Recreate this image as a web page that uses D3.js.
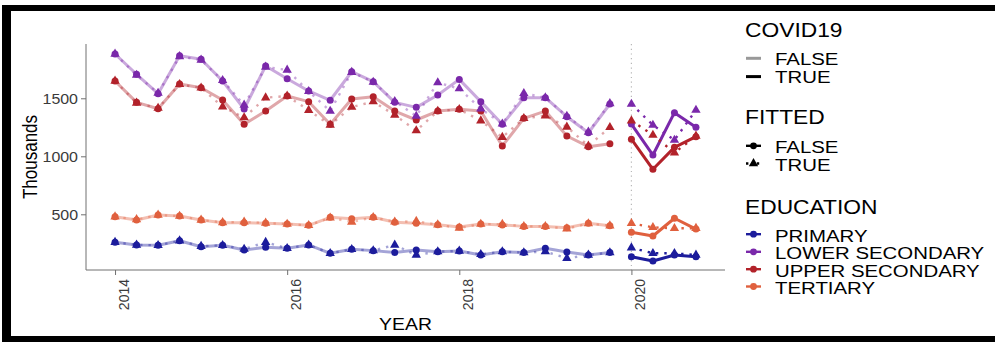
<!DOCTYPE html>
<html><head><meta charset="utf-8">
<script src="https://cdn.jsdelivr.net/npm/d3@7"></script>
<style>
body{margin:0;background:#fff}
svg{display:block}
text{font-family:"Liberation Sans",Arial,sans-serif}
</style>
</head><body>
<svg id="c" width="995" height="342"></svg>
<script>
// ---------- DATA ----------
const periods = ["2014-Q1","2014-Q2","2014-Q3","2014-Q4","2015-Q1","2015-Q2","2015-Q3","2015-Q4",
  "2016-Q1","2016-Q2","2016-Q3","2016-Q4","2017-Q1","2017-Q2","2017-Q3","2017-Q4",
  "2018-Q1","2018-Q2","2018-Q3","2018-Q4","2019-Q1","2019-Q2","2019-Q3","2019-Q4",
  "2020-Q1","2020-Q2","2020-Q3","2020-Q4"];
const covidStart = "2020-Q1";
const education = ["PRIMARY","LOWER SECONDARY","UPPER SECONDARY","TERTIARY"];
const eduColors = ["#1c1c9c","#7a28aa","#b2222a","#e0603e"];

const actualPrimary = [259,236,233,272,221,233,192,216,207,236,164,198,187,170,192,178,184,149,178,170,207,175,149,170, 134,97,149,134];
const fittedPrimary = [259,236,233,272,225,233,200,259,207,236,164,198,187,236,149,178,184,155,178,170,178,121,149,170, 212,164,164,149];
const actualLower = [1882,1707,1540,1867,1836,1649,1408,1778,1669,1563,1483,1729,1643,1465,1422,1528,1663,1471,1276,1505,1505,1341,1203,1451, 1278,1011,1376,1250];
const fittedLower = [1882,1700,1545,1860,1830,1655,1442,1770,1744,1560,1390,1725,1640,1474,1347,1635,1583,1410,1280,1543,1505,1345,1210,1455, 1450,1269,1140,1398];
const actualUpper = [1649,1465,1410,1623,1591,1485,1276,1390,1520,1471,1276,1494,1514,1390,1313,1390,1405,1390,1089,1327,1390,1175,1083,1108, 1148,888,1077,1169];
const fittedUpper = [1649,1460,1415,1620,1590,1427,1333,1505,1520,1397,1270,1425,1471,1356,1221,1390,1405,1307,1164,1327,1350,1253,1090,1250, 1307,1183,1031,1175];
const actualTertiary = [479,451,494,485,451,428,428,422,416,405,474,462,474,431,422,410,390,416,408,396,396,385,422,402, 345,313,466,373];
const fittedTertiary = [479,455,494,485,451,430,435,425,416,405,470,434,474,435,440,410,382,416,415,396,396,376,420,402, 422,388,379,380];

const yTicks = [500,1000,1500];
const xTicks = [2014,2016,2018,2020];
const covidLabels = ["FALSE","TRUE"];
const fittedLabels = ["FALSE","TRUE"];

// ---------- BUILD ----------
const actualByEdu = [actualPrimary, actualLower, actualUpper, actualTertiary];
const fittedByEdu = [fittedPrimary, fittedLower, fittedUpper, fittedTertiary];
const toYear = p => +p.slice(0,4) + (+p.slice(6) - 1) / 4;
const rows = [];
education.forEach((e, ei) => {
  periods.forEach((p, i) => {
    const covid = p >= covidStart;
    rows.push({edu: e, ei, t: toYear(p), v: actualByEdu[ei][i], fitted: false, covid});
    rows.push({edu: e, ei, t: toYear(p), v: fittedByEdu[ei][i], fitted: true, covid});
  });
});

const svg = d3.select("#c");
const x = d3.scaleLinear().domain([2013.6625, 2021.0875]).range([86, 725]);
const y = d3.scaleLinear().domain([20, 1968]).range([270, 44]);
const SX = 1.14;   // horizontal text stretch seen in the reference
const SXL = 1.2;   // legend labels

// frame
svg.append("rect").attr("x",0).attr("y",0).attr("width",995).attr("height",342).attr("fill","#fff");
svg.append("rect").attr("x",2).attr("y",5).attr("width",993).attr("height",6).attr("fill","#000");
svg.append("rect").attr("x",2).attr("y",5).attr("width",9).attr("height",337).attr("fill","#000");
svg.append("rect").attr("x",2).attr("y",336).attr("width",993).attr("height",6).attr("fill","#000");

// covid start reference line
svg.append("line").attr("x1",x(2020)).attr("x2",x(2020)).attr("y1",44).attr("y2",270)
  .attr("stroke","#b8b8b8").attr("stroke-width",1.2).attr("stroke-dasharray","1.2,3.5");

// lines
const groups = d3.groups(rows, d => d.ei, d => d.fitted, d => d.covid);
const line = d3.line().x(d => x(d.t)).y(d => y(d.v));
const gLines = svg.append("g");
groups.forEach(([ei, byFit]) => {
  byFit.forEach(([fitted, byCovid]) => {
    byCovid.forEach(([covid, pts]) => {
      gLines.append("path").datum(pts)
        .attr("d", line)
        .attr("fill","none")
        .attr("stroke", eduColors[ei])
        .attr("stroke-opacity", covid ? 1 : 0.4)
        .attr("stroke-width", fitted ? 2.4 : 3)
        .attr("stroke-linejoin","round")
        .attr("stroke-dasharray", fitted ? "2.4,6" : null);
    });
  });
});

// points
const gPts = svg.append("g");
gPts.selectAll("circle").data(rows.filter(d => !d.fitted)).join("circle")
  .attr("cx", d => x(d.t)).attr("cy", d => y(d.v)).attr("r", 3.5)
  .attr("fill", d => eduColors[d.ei]);
const tri = d3.symbol().type(d3.symbolTriangle).size(38);
gPts.selectAll("path.tri").data(rows.filter(d => d.fitted)).join("path")
  .attr("class","tri")
  .attr("d", tri)
  .attr("transform", d => `translate(${x(d.t)},${y(d.v)})`)
  .attr("fill", d => eduColors[d.ei]);

// axes
const axisCol = "#707070";
const gy = svg.append("g").attr("transform","translate(86,0)")
  .call(d3.axisLeft(y).tickValues(yTicks).tickSize(5).tickPadding(3).tickFormat(d3.format("d")));
gy.select(".domain").attr("stroke",axisCol).attr("d","M0,44V270");
gy.selectAll(".tick line").attr("stroke",axisCol);
gy.selectAll(".tick text").attr("x",null).attr("dy","0.35em")
  .attr("transform",`translate(-8,0) scale(${SX},1)`)
  .style("font-size","14px").attr("fill","#3a3a3a").style("font-family",'"Liberation Sans",Arial,sans-serif');

const gx = svg.append("g").attr("transform","translate(0,270)")
  .call(d3.axisBottom(x).tickValues(xTicks).tickSize(5).tickFormat(d3.format("d")));
gx.select(".domain").attr("stroke",axisCol).attr("d","M86,0H725");
gx.selectAll(".tick line").attr("stroke",axisCol);
gx.selectAll(".tick text").attr("x",0).attr("y",0).attr("dy",null)
  .attr("text-anchor","end")
  .attr("transform","translate(13,9) rotate(-90)")
  .style("font-size","14px").attr("fill","#3a3a3a").style("font-family",'"Liberation Sans",Arial,sans-serif');

function hText(x0, y0, str, size, anchor, fill, sx) {
  return svg.append("text").attr("transform",`translate(${x0},${y0}) scale(${sx || SX},1)`)
    .attr("text-anchor",anchor).style("font-size",size+"px").attr("fill",fill).text(str);
}
hText(405.5, 330, "YEAR", 17, "middle", "#000");
svg.append("text").attr("transform",`translate(37,157) scale(${SX},1) rotate(-90)`)
  .attr("text-anchor","middle").style("font-size","17px").attr("fill","#000").text("Thousands");

// legends
const kx1 = 746, kx2 = 761, kxm = 753.5, tx = 775;
hText(745, 37.3, "COVID19", 20, "start", "#000");
[65, 83.3].forEach((b, i) => {
  svg.append("line").attr("x1",kx1).attr("x2",kx2).attr("y1",b-6.7).attr("y2",b-6.7)
    .attr("stroke","#000").attr("stroke-opacity", i ? 1 : 0.4).attr("stroke-width",3);
  hText(tx, b, covidLabels[i], 17, "start", "#000", SXL);
});
hText(745, 124.3, "FITTED", 20, "start", "#000");
[153.3, 171].forEach((b, i) => {
  const ky = b - 7.5;
  svg.append("line").attr("x1",kx1).attr("x2",kx2).attr("y1",ky).attr("y2",ky)
    .attr("stroke","#000").attr("stroke-width",2.4).attr("stroke-dasharray", i ? "2.4,3" : null);
  if (i) svg.append("path").attr("d",tri).attr("transform",`translate(${kxm},${ky})`).attr("fill","#000");
  else svg.append("circle").attr("cx",kxm).attr("cy",ky).attr("r",3.4).attr("fill","#000");
  hText(tx, b, fittedLabels[i], 17, "start", "#000", SXL);
});
hText(745, 214, "EDUCATION", 20, "start", "#000");
[241.7, 259.3, 276.7, 294].forEach((b, i) => {
  const ky = b - 7.5;
  svg.append("line").attr("x1",kx1).attr("x2",kx2).attr("y1",ky).attr("y2",ky)
    .attr("stroke",eduColors[i]).attr("stroke-width",2.4);
  svg.append("circle").attr("cx",kxm).attr("cy",ky).attr("r",3.4).attr("fill",eduColors[i]);
  hText(tx, b, education[i], 17, "start", "#000", SXL);
});
</script>
</body></html>
